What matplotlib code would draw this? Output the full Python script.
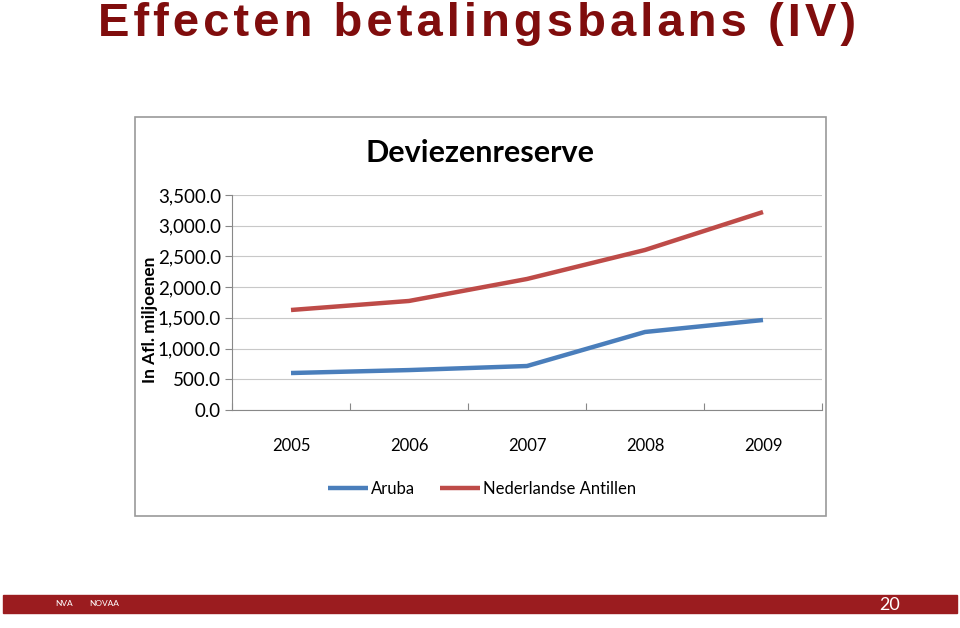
import matplotlib.pyplot as plt
from matplotlib.patches import Rectangle

years = ['2005', '2006', '2007', '2008', '2009']
aruba = [602, 650, 716, 1270, 1465]
ned_antillen = [1628, 1775, 2133, 2605, 3223]
y_ticks = [0, 500, 1000, 1500, 2000, 2500, 3000, 3500]

W, H = 960, 628
fig = plt.figure(figsize=(W / 100, H / 100), dpi=100)
plt.rcParams['font.family'] = ['Lato', 'DejaVu Sans']


def fx(px):
    return px / W


def fy(py):
    return 1 - py / H


# slide title, letter-spaced with hair spaces
title = '\u200a'.join('Effecten betalingsbalans (IV)')
fig.text(fx(477), fy(24), title,
         fontsize=34, fontweight='bold', color='#800d0d', ha='center', va='center',
         family=['Liberation Sans', 'DejaVu Sans'])

# chart frame
fig.patches.append(Rectangle((fx(135), fy(516)), fx(826) - fx(135), fy(117) - fy(516),
                             transform=fig.transFigure, fill=False, edgecolor='#9a9a9a', lw=1.2))

ax = fig.add_axes([fx(232), fy(410), fx(822) - fx(232), fy(195) - fy(410)])
x = range(len(years))
l1, = ax.plot(x, aruba, color='#4a7ebb', lw=3.2, solid_capstyle='butt', label='Aruba')
l2, = ax.plot(x, ned_antillen, color='#be4b48', lw=3.2, solid_capstyle='butt',
              label='Nederlandse Antillen')

ax.set_xlim(-0.5, len(years) - 0.5)
ax.set_ylim(0, 3500)
ax.set_yticks(y_ticks)
ax.set_yticklabels([f'{v:,.1f}' for v in y_ticks], fontsize=13.5)
ax.set_xticks([i - 0.5 for i in range(len(years) + 1)], minor=False)
ax.set_xticklabels([])
ax.set_xticks(list(x), minor=True)
ax.set_xticklabels(years, minor=True, fontsize=12)
ax.tick_params(axis='x', which='minor', length=0, pad=20)
ax.tick_params(axis='x', which='major', length=5, direction='in', color='#888888')
ax.tick_params(axis='y', length=5, direction='out', color='#888888', pad=3)
ax.grid(axis='y', color='#c8c8c8', lw=0.8)
ax.set_axisbelow(True)
for side in ['top', 'right']:
    ax.spines[side].set_visible(False)
for side in ['left', 'bottom']:
    ax.spines[side].set_color('#888888')

fig.text(fx(480), fy(153), 'Deviezenreserve', fontsize=22, fontweight='bold',
         ha='center', va='center')
fig.text(fx(150), fy(320), 'In Afl. miljoenen', rotation=90, fontsize=12.5,
         fontweight='bold', ha='center', va='center')

fig.legend(handles=[l1, l2], loc='center', bbox_to_anchor=(fx(482), fy(489)), ncol=2,
           frameon=False, fontsize=12, handlelength=2.4, columnspacing=1.5,
           handletextpad=0.2)

# footer band
fig.patches.append(Rectangle((fx(3), fy(613)), fx(957) - fx(3), fy(595) - fy(613),
                             transform=fig.transFigure, color='#9b1c1f'))
fig.text(fx(64), fy(604), 'NVA', fontsize=6, color='white', ha='center', va='center')
fig.text(fx(104), fy(604), 'NOVAA', fontsize=6, color='white', ha='center', va='center')
fig.text(fx(890), fy(605), '20', fontsize=13, color='white', ha='center', va='center')

fig.savefig('out.png', dpi=100)
